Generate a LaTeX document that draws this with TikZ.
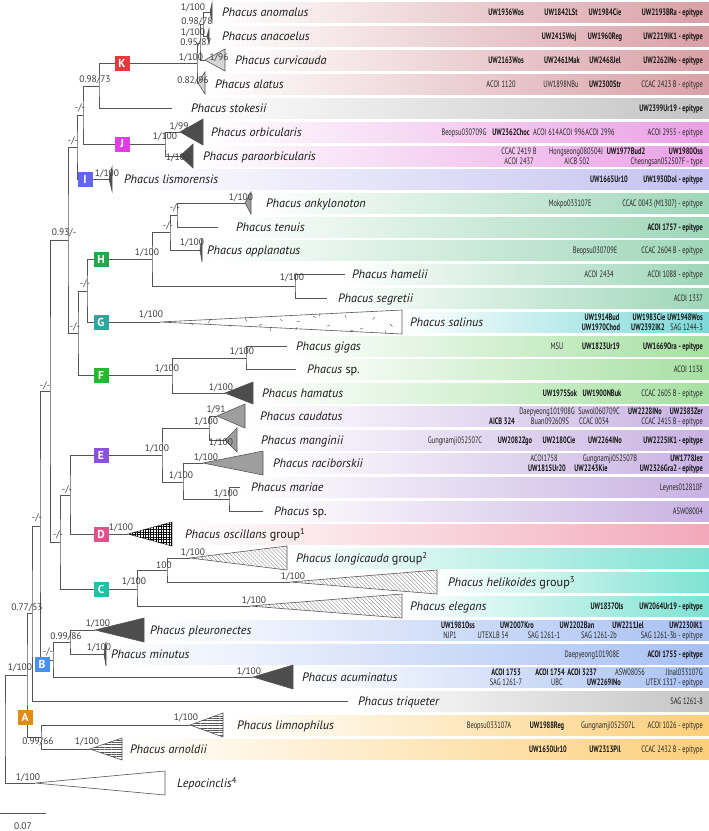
\documentclass[tikz,border=0pt]{standalone}
\usepackage{fontspec}
\setmainfont{PT Sans}
\newfontfamily\strf[FakeStretch=0.69]{PT Sans}
\usetikzlibrary{patterns,patterns.meta}
\definecolor{ln}{HTML}{555555}
\definecolor{supc}{HTML}{3A3A3A}
\definecolor{dk}{HTML}{4D4D4D}
\definecolor{md}{HTML}{9E9E9E}
\definecolor{lt}{HTML}{D6D6D6}
\definecolor{cK}{HTML}{E8383D}
\definecolor{cJ}{HTML}{E23CE6}
\definecolor{cI}{HTML}{6464EE}
\definecolor{cH}{HTML}{22A84C}
\definecolor{cG}{HTML}{2AA89E}
\definecolor{cF}{HTML}{22B830}
\definecolor{cE}{HTML}{8C50E0}
\definecolor{cD}{HTML}{E0508C}
\definecolor{cC}{HTML}{20C0A4}
\definecolor{cB}{HTML}{4A8EF0}
\definecolor{cA}{HTML}{E08C14}
\definecolor{bK}{HTML}{D8A0A6}
\definecolor{bGr}{HTML}{C4C4C4}
\definecolor{bJ}{HTML}{EAA0E4}
\definecolor{bI}{HTML}{C4C0F0}
\definecolor{bH}{HTML}{9ED6B8}
\definecolor{bG}{HTML}{7ED8D8}
\definecolor{bF}{HTML}{A6E0A2}
\definecolor{bE}{HTML}{C8B2E2}
\definecolor{bD}{HTML}{F2A8B8}
\definecolor{bC}{HTML}{7EE2D2}
\definecolor{bB}{HTML}{A8C0F2}
\definecolor{bA}{HTML}{FCCF7A}
\newcounter{mync}
\newcommand\mySP[3]{\stepcounter{mync}\node[supl] (p\arabic{mync}) at (#1,#2) {#3};}
\newcommand\mySS[4]{\stepcounter{mync}\node[#1] (s\arabic{mync}) at (#2,#3) {#4};}
\newcommand\myBAND[3]{\shade[left color=white,right color=#3] (#2,{#1-10}) rectangle (709,{#1+10});}
\newcommand\myTX[4]{\node[tax] (#1) at (#2,{#3+4.5}) {#4};}
\newcommand\myCL[4]{\draw[#4] (#1) -- ++(#2,-#3) -- ++(0,{2*#3}) -- cycle;}
\tikzset{
  br/.style={draw=ln, line width=0.7pt},
  supl/.style={font=\fontsize{9.5}{10}\selectfont, text=supc, inner sep=0, anchor=center},
  tax/.style={font=\itshape\fontsize{12.2}{12}\selectfont, text=black!90, inner sep=0, anchor=base west},
  strn/.style={font=\strf\fontsize{9.3}{9}\selectfont, text=black!85, inner sep=0, anchor=base},
  strb/.style={font=\strf\bfseries\fontsize{9.3}{9}\selectfont, text=black!92, inner sep=0, anchor=base},
  lbox/.style={minimum size=15pt, inner sep=0, text=white, font=\bfseries\fontsize{11.5}{11}\selectfont},
  dkf/.style={draw=ln, fill=dk, line width=0.6pt},
  mdf/.style={draw=ln, fill=md, line width=0.6pt},
  ltf/.style={draw=ln, fill=lt, line width=0.6pt},
  whf/.style={draw=ln, fill=white, line width=0.6pt},
  gridf/.style={draw=ln, line width=0.6pt, fill=white,
     postaction={pattern={Lines[angle=0,distance=2.6pt,line width=0.8pt]}, pattern color=black},
     postaction={pattern={Lines[angle=90,distance=2.6pt,line width=0.8pt]}, pattern color=black}},
  diagf/.style={draw=ln, line width=0.6pt, fill=white,
     postaction={pattern={Lines[angle=-45,distance=2.8pt,line width=0.35pt]}, pattern color=gray}},
  horf/.style={draw=ln, line width=0.6pt, fill=white,
     postaction={pattern={Lines[angle=0,distance=2.4pt,line width=0.4pt]}, pattern color=ln}},
}
\begin{document}
\begin{tikzpicture}[x=1pt,y=-1pt]
\useasboundingbox (0,0) rectangle (709,831);
% ---------- bands ----------
\myBAND{12}{212}{bK}
\myBAND{36}{212}{bK}
\myBAND{60}{225}{bK}
\myBAND{84}{205}{bK}
\myBAND{108}{181}{bGr}
\myBAND{132}{204}{bJ}
\myBAND{156}{195}{bJ}
\myBAND{179}{114}{bI}
\myBAND{203}{256}{bH}
\myBAND{227}{226}{bH}
\myBAND{250}{202}{bH}
\myBAND{274}{342}{bH}
\myBAND{298}{330}{bH}
\myBAND{322}{403}{bG}
\myBAND{346}{288}{bF}
\myBAND{369}{298}{bF}
\myBAND{393}{254}{bF}
\myBAND{416}{250}{bE}
\myBAND{440}{250}{bE}
\myBAND{463}{265}{bE}
\myBAND{487}{242}{bE}
\myBAND{511}{265}{bE}
\myBAND{534}{175}{bD}
\myBAND{558}{288}{bC}
\myBAND{582}{438}{bC}
\myBAND{606}{403}{bC}
\myBAND{630}{145}{bB}
\myBAND{654}{106}{bB}
\myBAND{677}{295}{bB}
\myBAND{701}{352}{bGr}
\myBAND{725}{226}{bA}
\myBAND{749}{124}{bA}
% ---------- tree coordinates ----------
\coordinate (r) at (5,729);
\coordinate (n27) at (27,675);
\coordinate (lep) at (35,783);
\coordinate (n32) at (32,613.5);
\coordinate (nA) at (41,737);
\coordinate (n40) at (40,526);
\coordinate (triq) at (348,701);
\coordinate (n50) at (50,391);
\coordinate (nB) at (53,660);
\coordinate (n68) at (68,240);
\coordinate (n60) at (60,542);
\coordinate (n77) at (77,147);
\coordinate (n78) at (78,333);
\coordinate (n83) at (83,115);
\coordinate (lis) at (109,179);
\coordinate (n99) at (99,86);
\coordinate (nJ) at (165,144);
\coordinate (nK) at (197,63);
\coordinate (stok) at (172,108);
\coordinate (k1) at (200,43);
\coordinate (alat) at (198,83);
\coordinate (k2) at (203,24);
\coordinate (curv) at (205,60);
\coordinate (anom) at (210,12);
\coordinate (anac) at (207,36);
\coordinate (orb) at (180,132);
\coordinate (para) at (180,156);
\coordinate (n87) at (87,291);
\coordinate (nF) at (172,375);
\coordinate (nH) at (152,259);
\coordinate (sal) at (160,322);
\coordinate (h1) at (170,232);
\coordinate (h2) at (295,286);
\coordinate (h3) at (177,215);
\coordinate (appl) at (200,250);
\coordinate (anky) at (245,203);
\coordinate (tenu) at (218,227);
\coordinate (hame) at (345,274);
\coordinate (segr) at (327,298);
\coordinate (f1) at (246,358);
\coordinate (hama) at (225,393);
\coordinate (giga) at (287,346);
\coordinate (spF) at (296,369);
\coordinate (n70) at (70,495);
\coordinate (nC) at (137,589);
\coordinate (nE) at (162,455);
\coordinate (osc) at (128,534);
\coordinate (e1) at (209,428);
\coordinate (e2) at (183,482);
\coordinate (caud) at (217,416);
\coordinate (mang) at (225,440);
\coordinate (raci) at (203,463);
\coordinate (e3) at (229,499);
\coordinate (mari) at (240,487);
\coordinate (spE) at (263,511);
\coordinate (c1) at (167,570);
\coordinate (eleg) at (250,606);
\coordinate (long) at (190,558);
\coordinate (heli) at (290,582);
\coordinate (b1) at (70,642);
\coordinate (acum) at (253,677);
\coordinate (pleu) at (95,630);
\coordinate (minu) at (104,654);
\coordinate (limn) at (190,725);
\coordinate (arno) at (90,749);
% ---------- branches ----------
\draw[br] (n27) -| (r) |- (lep);
\draw[br] (n32) -| (n27) |- (nA);
\draw[br] (n40) -| (n32) |- (triq);
\draw[br] (n50) -| (n40) |- (nB);
\draw[br] (n68) -| (n50) |- (n60);
\draw[br] (n77) -| (n68) |- (n78);
\draw[br] (n83) -| (n77) |- (lis);
\draw[br] (n99) -| (n83) |- (nJ);
\draw[br] (nK) -| (n99) |- (stok);
\draw[br] (k1) -| (nK) |- (alat);
\draw[br] (k2) -| (k1) |- (curv);
\draw[br] (anom) -| (k2) |- (anac);
\draw[br] (orb) -| (nJ) |- (para);
\draw[br] (n87) -| (n78) |- (nF);
\draw[br] (nH) -| (n87) |- (sal);
\draw[br] (h1) -| (nH) |- (h2);
\draw[br] (h3) -| (h1) |- (appl);
\draw[br] (anky) -| (h3) |- (tenu);
\draw[br] (hame) -| (h2) |- (segr);
\draw[br] (f1) -| (nF) |- (hama);
\draw[br] (giga) -| (f1) |- (spF);
\draw[br] (n70) -| (n60) |- (nC);
\draw[br] (nE) -| (n70) |- (osc);
\draw[br] (e1) -| (nE) |- (e2);
\draw[br] (caud) -| (e1) |- (mang);
\draw[br] (raci) -| (e2) |- (e3);
\draw[br] (mari) -| (e3) |- (spE);
\draw[br] (c1) -| (nC) |- (eleg);
\draw[br] (long) -| (c1) |- (heli);
\draw[br] (b1) -| (nB) |- (acum);
\draw[br] (pleu) -| (b1) |- (minu);
\draw[br] (limn) -| (nA) |- (arno);
% ---------- collapsed clades ----------
\myCL{anom}{2}{9}{dkf}
\myCL{anac}{2}{7}{dkf}
\myCL{curv}{20}{11}{ltf}
\myCL{alat}{7}{11}{ltf}
\myCL{orb}{23}{13}{dkf}
\myCL{para}{13}{12}{dkf}
\myCL{lis}{3}{12}{dkf}
\myCL{anky}{6}{11}{mdf}
\myCL{appl}{2}{12}{dkf}
\myCL{sal}{242}{12}{whf}
\foreach \x/\dy/\a in {190/1/30, 210/-2/120, 228/3/20, 245/-4/60, 262/2/150, 280/-3/40, 297/5/110, 313/-6/30, 330/3/160, 345/-7/70, 360/6/20, 375/-5/130, 390/2/45, 385/8/80, 350/8/10, 320/-9/100, 270/6/75, 300/-1/165}
  {\draw[ln, line width=0.4pt] (\x,322+\dy) -- ++(\a:3.5);}
\myCL{hama}{28}{11}{dkf}
\myCL{caud}{28}{12}{mdf}
\myCL{mang}{12}{12}{mdf}
\myCL{raci}{60}{12}{mdf}
\myCL{osc}{44}{12}{gridf}
\myCL{long}{97}{12}{diagf}
\myCL{heli}{147}{12}{diagf}
\myCL{eleg}{152}{12}{diagf}
\myCL{pleu}{49}{12}{dkf}
\myCL{minu}{2}{12}{dkf}
\myCL{acum}{40}{12}{dkf}
\myCL{limn}{33}{12}{horf}
\myCL{arno}{32}{11}{horf}
\myCL{lep}{130}{12}{whf}
% ---------- clade boxes ----------
\node[lbox, fill=cK] (bxK) at (122,63) {K};
\node[lbox, fill=cJ] (bxJ) at (122,144) {J};
\node[lbox, fill=cI] (bxI) at (85,179) {I};
\node[lbox, fill=cH] (bxH) at (101,259) {H};
\node[lbox, fill=cG] (bxG) at (101,322) {G};
\node[lbox, fill=cF] (bxF) at (101,375) {F};
\node[lbox, fill=cE] (bxE) at (101,455) {E};
\node[lbox, fill=cD] (bxD) at (101,534) {D};
\node[lbox, fill=cC] (bxC) at (101,589) {C};
\node[lbox, fill=cB] (bxB) at (42,664) {B};
\node[lbox, fill=cA] (bxA) at (25,717) {A};
% ---------- support values ----------
\mySP{193}{8}{1/100}
\mySP{197}{22}{0.98/78}
\mySP{193}{33}{1/100}
\mySP{196}{43}{0.95/87}
\mySP{191}{58}{1/100}
\mySP{219}{58}{1/96}
\mySP{193}{81}{0.82/96}
\mySP{95}{80}{0.98/73}
\mySP{80}{108}{-/-}
\mySP{179}{127}{1/99}
\mySP{165}{137}{1/100}
\mySP{178}{158}{1/100}
\mySP{73}{141}{-/-}
\mySP{107}{174}{1/100}
\mySP{64}{233}{0.93/-}
\mySP{175}{208}{-/-}
\mySP{168}{226}{-/-}
\mySP{241}{198}{1/100}
\mySP{192}{243}{1/100}
\mySP{147}{253}{1/100}
\mySP{292}{278}{1/100}
\mySP{85}{284}{-/-}
\mySP{151}{315}{1/100}
\mySP{75}{327}{-/-}
\mySP{242}{352}{1/100}
\mySP{167}{369}{1/100}
\mySP{221}{388}{1/100}
\mySP{45}{386}{-/-}
\mySP{216}{410}{1/91}
\mySP{206}{422}{1/100}
\mySP{221}{443}{1/100}
\mySP{157}{449}{1/100}
\mySP{206}{458}{1/100}
\mySP{181}{476}{1/100}
\mySP{226}{494}{1/100}
\mySP{67}{490}{-/-}
\mySP{121}{528}{1/100}
\mySP{58}{535}{-/-}
\mySP{37}{518}{-/-}
\mySP{193}{553}{1/100}
\mySP{164}{565}{100}
\mySP{293}{577}{1/100}
\mySP{134}{582}{1/100}
\mySP{254}{601}{1/100}
\mySP{27}{608}{0.77/53}
\mySP{98}{624}{1/100}
\mySP{66}{637}{0.99/86}
\mySP{99}{648}{1/100}
\mySP{48}{652}{-/-}
\mySP{20}{668}{1/100}
\mySP{249}{672}{1/100}
\mySP{186}{718}{1/100}
\mySP{38}{742}{0.99/66}
\mySP{87}{742}{1/100}
\mySP{28}{778}{1/100}
% ---------- taxon labels ----------
\myTX{t1}{222}{12}{Phacus anomalus}
\myTX{t2}{222}{36}{Phacus anacoelus}
\myTX{t3}{235}{60}{Phacus curvicauda}
\myTX{t4}{215}{84}{Phacus alatus}
\myTX{t5}{191}{108}{Phacus stokesii}
\myTX{t6}{211}{132}{Phacus orbicularis}
\myTX{t7}{203}{156}{Phacus paraorbicularis}
\myTX{t8}{124}{179}{Phacus lismorensis}
\myTX{t9}{266}{203}{Phacus ankylonoton}
\myTX{t10}{236}{227}{Phacus tenuis}
\myTX{t11}{207}{250}{Phacus applanatus}
\myTX{t12}{352}{274}{Phacus hamelii}
\myTX{t13}{338}{298}{Phacus segretii}
\myTX{t14}{410}{322}{Phacus salinus}
\myTX{t15}{296}{346}{Phacus gigas}
\myTX{t16}{307}{369}{Phacus \upshape sp.}
\myTX{t17}{262}{393}{Phacus hamatus}
\myTX{t18}{260}{416}{Phacus caudatus}
\myTX{t19}{261}{440}{Phacus manginii}
\myTX{t20}{273}{463}{Phacus raciborskii}
\myTX{t21}{251}{487}{Phacus mariae}
\myTX{t22}{274}{511}{Phacus \upshape sp.}
\myTX{t23}{185}{534}{Phacus oscillans \upshape group\textsuperscript{1}}
\myTX{t24}{296}{558}{Phacus longicauda \upshape group\textsuperscript{2}}
\myTX{t25}{448}{582}{Phacus helikoides \upshape group\textsuperscript{3}}
\myTX{t26}{410}{606}{Phacus elegans}
\myTX{t27}{150}{630}{Phacus pleuronectes}
\myTX{t28}{111}{654}{Phacus minutus}
\myTX{t29}{302}{677}{Phacus acuminatus}
\myTX{t30}{358}{701}{Phacus triqueter}
\myTX{t31}{237}{725}{Phacus limnophilus}
\myTX{t32}{130}{749}{Phacus arnoldii}
\myTX{t33}{177}{783}{Lepocinclis\upshape\textsuperscript{4}}
% ---------- strain labels ----------
\mySS{strb}{506}{15}{UW1936Wos}
\mySS{strb}{561}{15}{UW1842LSt}
\mySS{strb}{605}{15}{UW1984Cie}
\mySS{strb,anchor=base east}{703}{15}{UW2193BRa - epitype}
\mySS{strb}{559}{39}{UW2415Woj}
\mySS{strb}{605}{39}{UW1960Reg}
\mySS{strb,anchor=base east}{703}{39}{UW2219IK1 - epitype}
\mySS{strb}{506}{63}{UW2163Wos}
\mySS{strb}{562}{63}{UW2461Mak}
\mySS{strb}{605}{63}{UW2468Jel}
\mySS{strb,anchor=base east}{703}{63}{UW2262INo - epitype}
\mySS{strn}{501}{87}{ACOI 1120}
\mySS{strn}{561}{87}{UW1898NBu}
\mySS{strb}{605}{87}{UW2300Str}
\mySS{strn,anchor=base east}{703}{87}{CCAC 2423 B - epitype}
\mySS{strb,anchor=base east}{703}{111}{UW2399Ur19 - epitype}
\mySS{strn}{464}{135}{Beopsu030709G}
\mySS{strb}{511}{135}{UW2362Choc}
\mySS{strn}{546}{135}{ACOI 614}
\mySS{strn}{572}{135}{ACOI 996}
\mySS{strn}{600}{135}{ACOI 2996}
\mySS{strn,anchor=base east}{703}{135}{ACOI 2955 - epitype}
\mySS{strn}{519}{154}{CCAC 2419 B}
\mySS{strn}{576}{154}{Hongseong080504J}
\mySS{strb}{626}{154}{UW1977Bud2}
\mySS{strb,anchor=base east}{703}{154}{UW1980Oss}
\mySS{strn}{519}{164}{ACOI 2437}
\mySS{strn}{577}{164}{AICB 502}
\mySS{strn,anchor=base east}{703}{164}{Cheongsan052507F - type}
\mySS{strb}{609}{182}{UW1665Ur10}
\mySS{strb,anchor=base east}{703}{182}{UW1930Dol - epitype}
\mySS{strn}{570}{206}{Mokpo033107E}
\mySS{strn,anchor=base east}{703}{206}{CCAC 0043 (M1307) - epitype}
\mySS{strb,anchor=base east}{703}{230}{ACOI 1757 - epitype}
\mySS{strn}{595}{253}{Beopsu030709E}
\mySS{strn,anchor=base east}{703}{253}{CCAC 2604 B - epitype}
\mySS{strn}{599}{277}{ACOI 2434}
\mySS{strn,anchor=base east}{703}{277}{ACOI 1088 - epitype}
\mySS{strn,anchor=base east}{703}{301}{ACOI 1337}
\mySS{strb}{602}{320}{UW1914Bud}
\mySS{strb}{649}{320}{UW1983Cie}
\mySS{strb,anchor=base east}{703}{320}{UW1948Wos}
\mySS{strb}{601}{330}{UW1970Chod}
\mySS{strb}{648}{330}{UW2392IK2}
\mySS{strn,anchor=base east}{703}{330}{SAG 1244-3}
\mySS{strn}{557}{349}{MSU}
\mySS{strb}{601}{349}{UW1823Ur19}
\mySS{strb,anchor=base east}{703}{349}{UW1669Ora - epitype}
\mySS{strn,anchor=base east}{703}{372}{ACOI 1138}
\mySS{strb}{560}{396}{UW1975Sok}
\mySS{strb}{602}{396}{UW1900NBuk}
\mySS{strn,anchor=base east}{703}{396}{CCAC 2605 B - epitype}
\mySS{strn}{547}{414}{Daepyeong101908G}
\mySS{strn}{599}{414}{Suwol060709C}
\mySS{strb}{645}{414}{UW2228INo}
\mySS{strb,anchor=base east}{703}{414}{UW2383Zer}
\mySS{strb}{502}{424}{AICB 324}
\mySS{strn}{550}{424}{Buan092609S}
\mySS{strn}{594}{424}{CCAC 0034}
\mySS{strn,anchor=base east}{703}{424}{CCAC 2415 B - epitype}
\mySS{strn}{455}{443}{Gungnamji052507C}
\mySS{strb}{515}{443}{UW2082Zgo}
\mySS{strb}{559}{443}{UW2180Cie}
\mySS{strb}{605}{443}{UW2264INo}
\mySS{strb,anchor=base east}{703}{443}{UW2225IK1 - epitype}
\mySS{strn}{544}{461}{ACOI1758}
\mySS{strn}{610}{461}{Gungnamji052507B}
\mySS{strb,anchor=base east}{703}{461}{UW1778Jez}
\mySS{strb}{547}{471}{UW1815Ur20}
\mySS{strb}{591}{471}{UW2243Kie}
\mySS{strb,anchor=base east}{703}{471}{UW2326Gra2 - epitype}
\mySS{strn,anchor=base east}{703}{490}{Leynes012810F}
\mySS{strn,anchor=base east}{703}{514}{ASW08004}
\mySS{strb}{607}{609}{UW1837Ols}
\mySS{strb,anchor=base east}{703}{609}{UW2064Ur19 - epitype}
\mySS{strb}{458}{628}{UW1981Oss}
\mySS{strb}{517}{628}{UW2007Kro}
\mySS{strb}{577}{628}{UW2202Ban}
\mySS{strb}{628}{628}{UW2211Jel}
\mySS{strb,anchor=base east}{703}{628}{UW2230IK1}
\mySS{strn}{450}{638}{NJP1}
\mySS{strn}{493}{638}{UTEXLB 54}
\mySS{strn}{544}{638}{SAG 1261-1}
\mySS{strn}{599}{638}{SAG 1261-2b}
\mySS{strn,anchor=base east}{703}{638}{SAG 1261-3b - epitype}
\mySS{strn}{592}{657}{Daepyeong101908E}
\mySS{strb,anchor=base east}{703}{657}{ACOI 1755 - epitype}
\mySS{strb}{506}{675}{ACOI 1753}
\mySS{strb}{550}{675}{ACOI 1754}
\mySS{strb}{582}{675}{ACOI 3237}
\mySS{strn}{630}{675}{ASW08056}
\mySS{strn,anchor=base east}{703}{675}{Jlnal033107G}
\mySS{strn}{506}{685}{SAG 1261-7}
\mySS{strn}{557}{685}{UBC}
\mySS{strb}{604}{685}{UW2269INo}
\mySS{strn,anchor=base east}{703}{685}{UTEX 1317 - epitype}
\mySS{strn,anchor=base east}{703}{704}{SAG 1261-8}
\mySS{strn}{489}{728}{Beopsu033107A}
\mySS{strb}{547}{728}{UW1988Reg}
\mySS{strn}{608}{728}{Gungnamji052507L}
\mySS{strn,anchor=base east}{703}{728}{ACOI 1026 - epitype}
\mySS{strb}{548}{752}{UW1650Ur10}
\mySS{strb}{605}{752}{UW2313Pil}
\mySS{strn,anchor=base east}{703}{752}{CCAC 2432 B - epitype}
% ---------- scale bar ----------
\coordinate (sb1) at (0,813);
\coordinate (sb2) at (46,813);
\draw[br] (sb1) -- (sb2);
\node[supl] (sbl) at (23,826) {0.07};
\end{tikzpicture}
\end{document}
